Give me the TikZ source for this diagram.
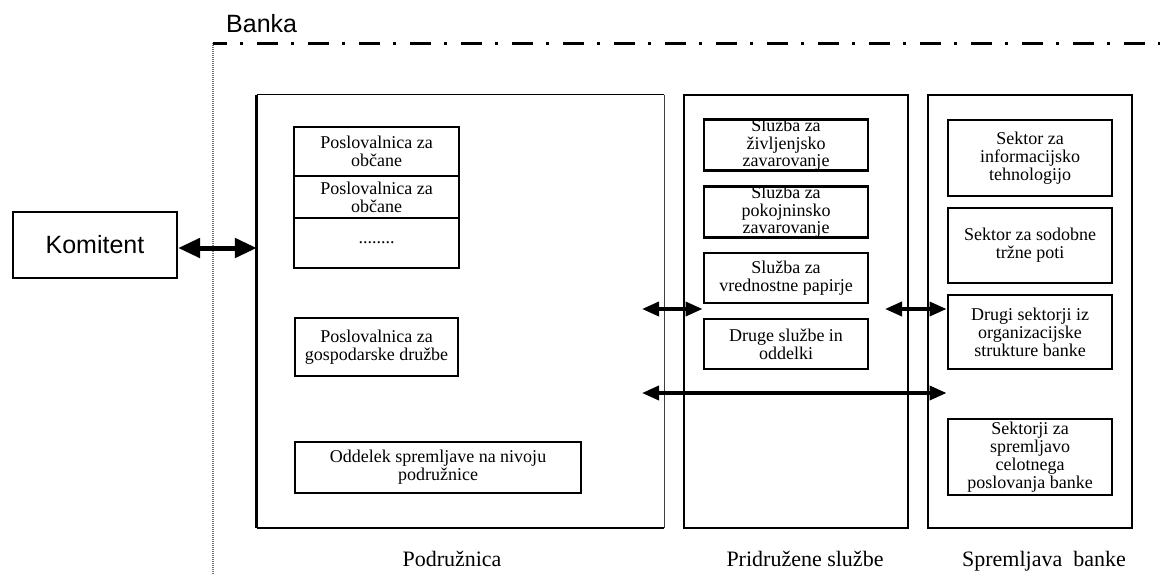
\documentclass[tikz,border=0pt]{standalone}
\usepackage{fontspec}
\setmainfont{Liberation Serif}
\newfontfamily\arialfont{Liberation Sans}
\usetikzlibrary{arrows.meta}
\tikzset{
  sz/.style 2 args={minimum width=#1, minimum height=#2},
  ibox/.style={draw, line width=2.9pt, align=center, inner sep=0pt,
               font=\fontsize{18pt}{18pt}\selectfont},
  obox/.style={draw, line width=2.5pt, inner sep=0pt},
  caption/.style={anchor=base, inner sep=0pt, font=\fontsize{22pt}{22pt}\selectfont},
  bigarrow/.style={line width=5pt,
    {Triangle[length=22pt,width=19pt]}-{Triangle[length=22pt,width=19pt]}},
  linkarrow/.style={line width=3.6pt,
    {Triangle[length=17pt,width=14pt]}-{Triangle[length=17pt,width=14pt]}},
  bankline/.style={line width=3pt, dash pattern=on 21pt off 13pt on 3pt off 14pt, dash phase=7pt},
  bankside/.style={line width=1.2pt, black!55, dash pattern=on 1pt off 1pt},
}
\begin{document}
\begin{tikzpicture}[x=1pt, y=-1pt]
\useasboundingbox (0,0) rectangle (1160,574);

% bank boundary
\node[anchor=base west, inner sep=0pt, font=\arialfont\fontsize{25pt}{25pt}\selectfont] (banka) at (226,32) {Banka};
\coordinate (bcorner) at (213,43);
\coordinate (bright) at (1160,43);
\coordinate (bbottom) at (213,574);
\draw[bankside] (bcorner) -- (bbottom);
\draw[bankline] (bcorner) -- (bright);

% client
\node[draw, line width=2.2pt, sz={164pt}{66pt}, inner sep=0pt,
      font=\arialfont\fontsize{25pt}{25pt}\selectfont] (kom) at (95,245) {Komitent};

% branch
\node[sz={407pt}{433pt}, inner sep=0pt] (pod) at (460.5,311.5) {};
\draw[line width=1.3pt] (pod.north west) -- (pod.north east);
\draw[line width=1.4pt, black!75] (pod.north east) -- (pod.south east);
\draw[line width=2.2pt] (pod.south west) -- (pod.south east);
\draw[line width=2.8pt] (pod.north west) -- (pod.south west);

\node[ibox, sz={165pt}{49pt}] (p1) at (376.5,151.5) {Poslovalnica za\\občane};
\node[ibox, sz={165pt}{42pt}] (p2) at (376.5,197) {Poslovalnica za\\občane};
\node[ibox, sz={165pt}{50pt}] (p3) at (376.5,243) {........};
\node[ibox, sz={163pt}{58pt}] (p4) at (376.5,347) {Poslovalnica za\\gospodarske družbe};
\node[ibox, sz={286pt}{51pt}] (p5) at (438,467.5) {Oddelek spremljave na nivoju\\podružnice};

% associated services
\node[obox, sz={224pt}{433pt}] (prid) at (796,311.5) {};
\node[ibox, sz={164pt}{50pt}, font=\fontsize{18pt}{17.5pt}\selectfont] (s1) at (786,145) {Služba za\\življenjsko\\zavarovanje};
\node[ibox, sz={164pt}{50pt}, font=\fontsize{18pt}{17.5pt}\selectfont] (s2) at (786,212) {Služba za\\pokojninsko\\zavarovanje};
\node[ibox, sz={164pt}{50pt}] (s3) at (786,278) {Služba za\\vrednostne papirje};
\node[ibox, sz={164pt}{50pt}] (s4) at (786,344) {Druge službe in\\oddelki};

% bank monitoring
\node[obox, sz={204pt}{433pt}] (spr) at (1030,311.5) {};
\node[ibox, sz={164pt}{76pt}] (g1) at (1030,158) {Sektor za\\informacijsko\\tehnologijo};
\node[ibox, sz={164pt}{75pt}] (g2) at (1030,245.5) {Sektor za sodobne\\tržne poti};
\node[ibox, sz={164pt}{74pt}] (g3) at (1030,332) {Drugi sektorji iz\\organizacijske\\strukture banke};
\node[ibox, sz={164pt}{76pt}] (g4) at (1030,457) {Sektorji za\\spremljavo\\celotnega\\poslovanja banke};

% captions
\node[caption] (cpod) at (452,566) {Podružnica};
\node[caption] (cprid) at (805,566) {Pridružene službe};
\node[caption] (cspr) at (1044,566) {Spremljava~ banke};

% connectors
\draw[bigarrow] ([yshift=-3pt]kom.east) -- ([yshift=-3pt]kom.east -| pod.west);
\coordinate (l1) at (642,309);
\coordinate (l2) at (885,309);
\coordinate (l3) at (642,393);
\draw[linkarrow] (l1) -- (l1 -| s3.west);
\draw[linkarrow] (l2) -- (l2 -| g3.west);
\draw[linkarrow] (l3) -- (l3 -| g3.west);
\end{tikzpicture}
\end{document}
